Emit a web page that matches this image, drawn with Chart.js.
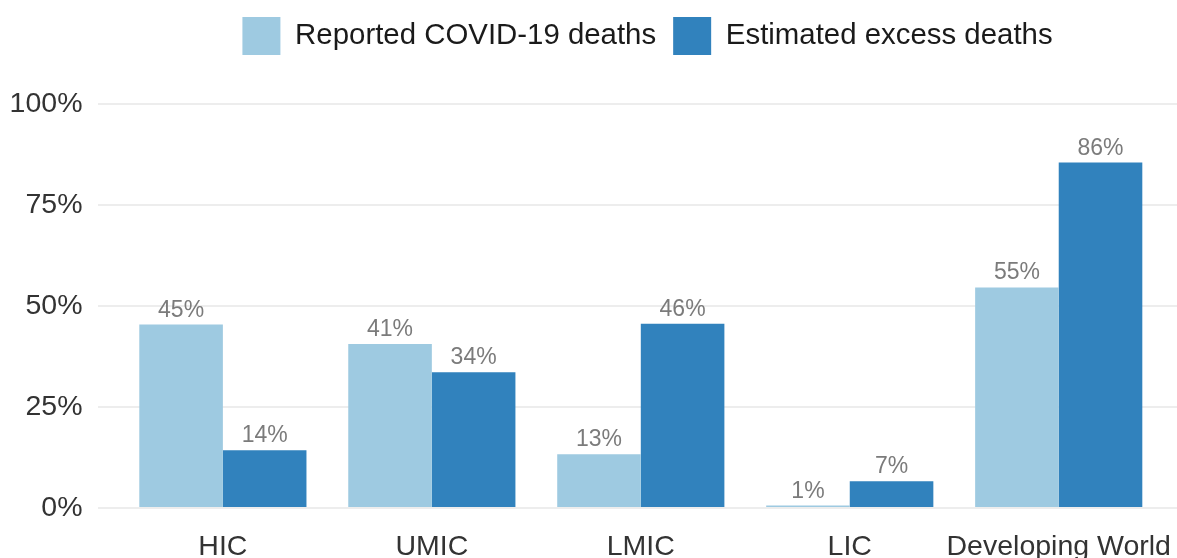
<!DOCTYPE html>
<html>
<head>
<meta charset="utf-8">
<script src="https://cdn.jsdelivr.net/npm/chart.js@4"></script>
<style>
  html, body { margin: 0; padding: 0; background: #ffffff; }
  #wrap { width: 1177px; height: 558px; }
</style>
</head>
<body>
<div id="wrap"><canvas id="c" width="1177" height="558"></canvas></div>
<script>
const categories = ["HIC", "UMIC", "LMIC", "LIC", "Developing World"];
const reportedDeaths = [45.4, 40.6, 13.3, 0.6, 54.6];
const excessDeaths = [14.3, 33.6, 45.6, 6.6, 85.5];
const seriesNames = ["Reported COVID-19 deaths", "Estimated excess deaths"];
const yTicks = [0, 25, 50, 75, 100];

const FONT = "'Liberation Sans', Arial, Helvetica, sans-serif";

const toPoints = arr => arr.map((v, i) => ({ x: i, y: v }));

const barLabels = {
  id: 'barLabels',
  afterDatasetsDraw(chart) {
    const ctx = chart.ctx;
    ctx.save();
    ctx.font = "23px " + FONT;
    ctx.fillStyle = "#7b7b7b";
    ctx.textAlign = "center";
    ctx.textBaseline = "alphabetic";
    chart.data.datasets.forEach((ds, di) => {
      const meta = chart.getDatasetMeta(di);
      meta.data.forEach((bar, i) => {
        const v = ds.data[i].y;
        ctx.fillText(Math.round(v) + "%", bar.x, bar.y - 8);
      });
    });
    ctx.restore();
  }
};

const legendSpacing = {
  id: 'legendSpacing',
  beforeInit(chart) {
    const origFit = chart.legend.fit;
    chart.legend.fit = function () {
      origFit.bind(chart.legend)();
      this.height += 39;
    };
  },
  afterLayout(chart) {
    chart.legend.left += 59;
    chart.legend.right += 59;
  }
};

new Chart(document.getElementById('c'), {
  type: 'bar',
  data: {
    datasets: [
      { label: seriesNames[0], data: toPoints(reportedDeaths), backgroundColor: '#9ecae1', borderWidth: 0 },
      { label: seriesNames[1], data: toPoints(excessDeaths), backgroundColor: '#3182bd', borderWidth: 0 }
    ]
  },
  options: {
    responsive: false,
    animation: false,
    events: [],
    layout: { padding: { left: 0, right: 0, top: 0, bottom: 0 } },
    datasets: { bar: { categoryPercentage: 0.8, barPercentage: 1.0, grouped: true } },
    plugins: {
      legend: {
        position: 'top',
        align: 'center',
        labels: {
          boxWidth: 38,
          boxHeight: 38,
          padding: 17,
          color: '#1a1a1a',
          font: { family: FONT, size: 29.4 }
        }
      },
      tooltip: { enabled: false }
    },
    scales: {
      x: {
        type: 'linear',
        min: -0.6,
        max: 4.566,
        offset: false,
        grid: { display: false, drawTicks: false },
        border: { display: false },
        afterBuildTicks(scale) {
          scale.ticks = categories.map((c, i) => ({ value: i }));
        },
        afterFit(scale) {
          scale.height = 50;
          scale.paddingLeft = 0;
          scale.paddingRight = 0;
        },
        ticks: {
          autoSkip: false,
          maxRotation: 0,
          padding: 22,
          color: '#333333',
          font: { family: FONT, size: 28.5 },
          callback: (v) => categories[v] !== undefined ? categories[v] : ''
        }
      },
      y: {
        min: 0,
        max: 100,
        afterBuildTicks(scale) {
          scale.ticks = yTicks.map(v => ({ value: v }));
        },
        afterFit(scale) { scale.width = 97.5; },
        grid: { color: '#ededed', lineWidth: 2, drawTicks: false },
        border: { display: false },
        ticks: {
          padding: 15,
          color: '#333333',
          font: { family: FONT, size: 28.5 },
          callback: v => v + '%'
        }
      }
    }
  },
  plugins: [barLabels, legendSpacing]
});
</script>
</body>
</html>
